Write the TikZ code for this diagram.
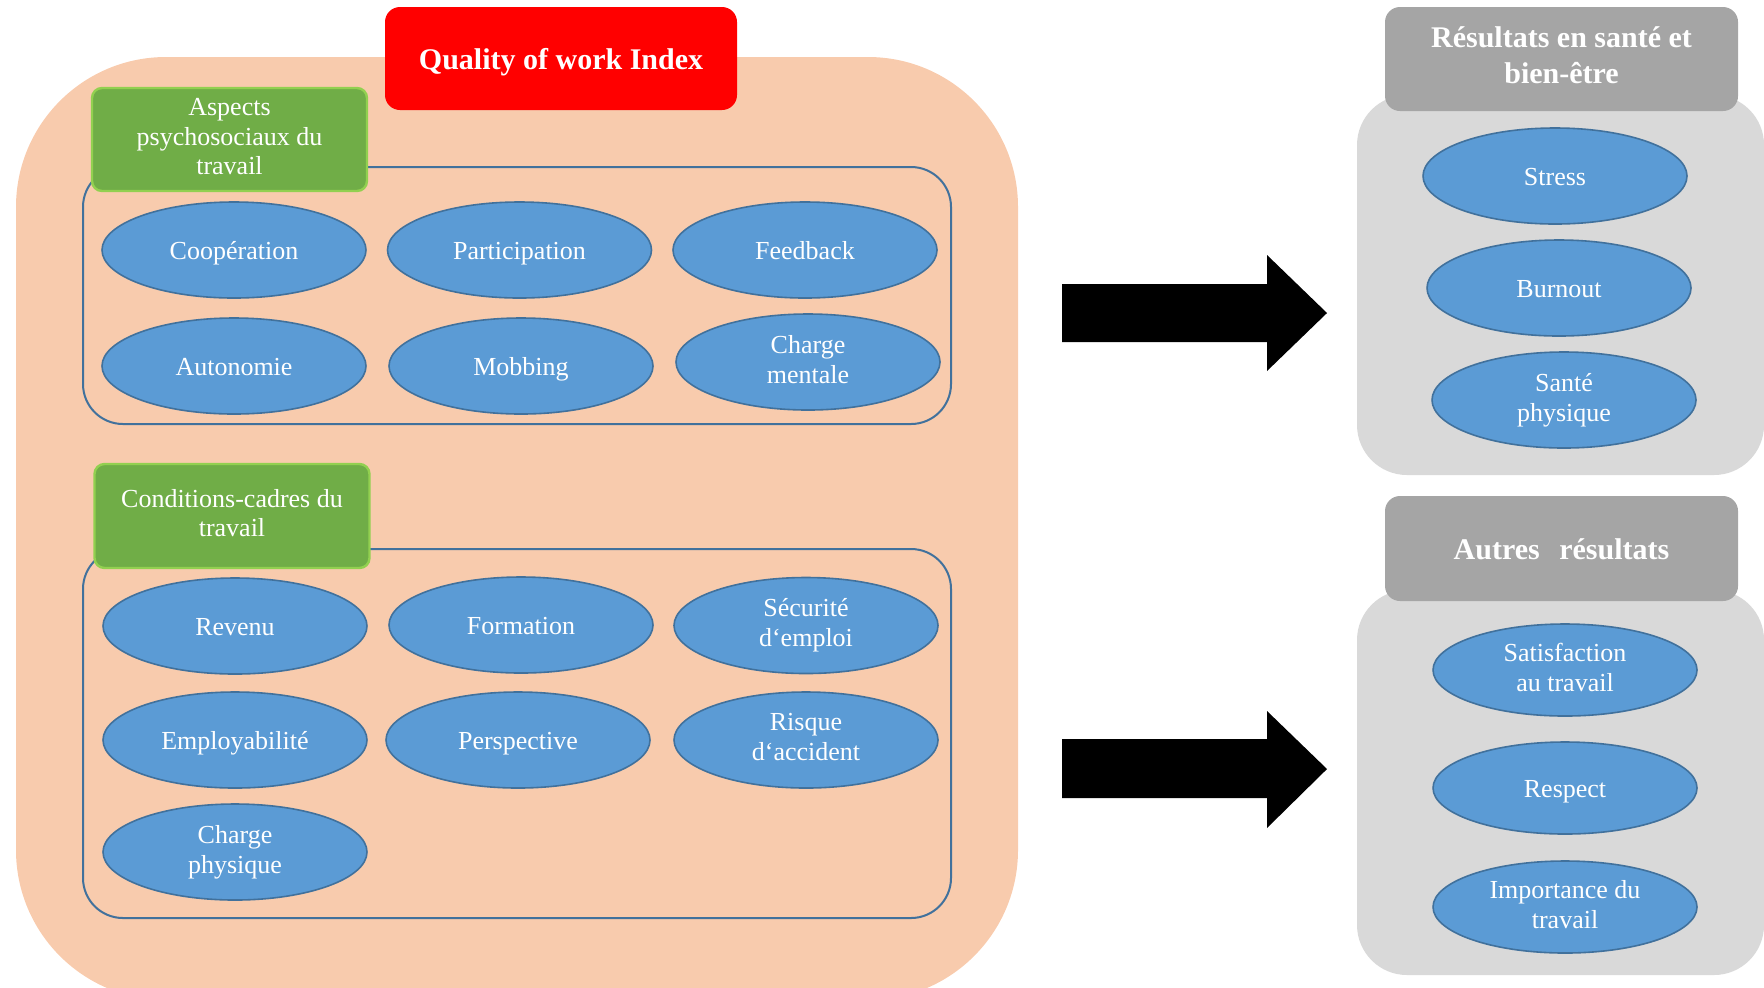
\documentclass[tikz,border=0pt]{standalone}
\usepackage{fontspec}
\setmainfont{Liberation Serif}
\usetikzlibrary{shapes.geometric}
\definecolor{peach}{HTML}{F8CBAD}
\definecolor{ovalfill}{HTML}{5B9BD5}
\definecolor{ovaledge}{HTML}{41719C}
\definecolor{grn}{HTML}{70AD47}
\definecolor{grnedge}{HTML}{92D050}
\definecolor{hdrgray}{HTML}{A5A5A5}
\definecolor{bodygray}{HTML}{D9D9D9}
\definecolor{qred}{HTML}{FF0000}
\newcommand\mystrut{\rule[-0.2\baselineskip]{0pt}{\baselineskip}}
\begin{document}
\begin{tikzpicture}[x=0.5pt,y=-0.5pt,
  struts/.style={execute at begin node=\mystrut, execute at end node=\mystrut},
  oval/.style={ellipse, fill=ovalfill, draw=ovaledge, line width=0.8pt,
    minimum width=132pt, minimum height=48pt, inner sep=0pt, text=white,
    align=center, font=\fontsize{13}{15}\selectfont, struts},
  bigpanel/.style={rectangle, fill=peach, rounded corners=75pt, inner sep=0pt,
    minimum width=501pt, minimum height=471.5pt},
  groupbox/.style={rectangle, draw=ovaledge, line width=1pt, rounded corners=20pt,
    inner sep=0pt, minimum width=434pt},
  greenbox/.style={rectangle, fill=grn, draw=grnedge, line width=1.2pt, rounded corners=5pt,
    inner sep=0pt, minimum width=137.5pt, minimum height=51.5pt, text=white,
    align=center, font=\fontsize{13}{14.8}\selectfont, struts},
  redbox/.style={rectangle, fill=qred, rounded corners=7.5pt, inner sep=0pt,
    minimum width=176pt, minimum height=51.5pt, text=white,
    font=\fontsize{15}{18}\selectfont\bfseries, struts},
  hdrbox/.style={rectangle, fill=hdrgray, rounded corners=7.5pt, inner sep=0pt,
    minimum width=176.5pt, minimum height=52pt, text=white, align=center,
    font=\fontsize{15}{18}\selectfont\bfseries, struts},
  graybody/.style={rectangle, fill=bodygray, rounded corners=25pt, inner sep=0pt,
    minimum width=203.5pt},
  blockarrow/.style={fill=black}
]
\useasboundingbox (0,0) rectangle (1764,987);
\clip (0,0) rectangle (1764,987);

% left panel
\node[bigpanel] (qwi) at (517,528.5) {};
\node[groupbox, minimum height=128.5pt] (grpA) at (517,295.5) {};
\node[groupbox, minimum height=184.5pt] (grpB) at (517,733.5) {};
\node[greenbox] (hdrA) at (229.5,139.5) {Aspects\\psychosociaux du\\travail};
\node[greenbox, minimum height=52pt] (hdrB) at (232,516) {Conditions-cadres du\\travail};
\node[redbox] (title) at (561,58.5) {Quality of work Index};

\node[oval] (coop) at (234,250) {Coopération};
\node[oval] (part) at (519.5,250) {Participation};
\node[oval] (feed) at (805,250) {Feedback};
\node[oval] (auto) at (234,366) {Autonomie};
\node[oval] (mobb) at (521,366) {Mobbing};
\node[oval] (chm) at (808,362) {Charge\\mentale};

\node[oval] (rev) at (235,626) {Revenu};
\node[oval] (form) at (521,625) {Formation};
\node[oval] (secu) at (806,625.5) {Sécurité\\d‘emploi};
\node[oval] (empl) at (235,740) {Employabilité};
\node[oval] (persp) at (518,740) {Perspective};
\node[oval] (risq) at (806,740) {Risque\\d‘accident};
\node[oval] (chp) at (235,852) {Charge\\physique};

% arrows
\coordinate (a1) at (1062,284);
\coordinate (a2) at (1062,739);
\fill[blockarrow] (a1) -- ++(205,0) -- ++(0,-29) -- (1327,313) -- (1267,371) -- (1267,342) -- (1062,342) -- cycle;
\fill[blockarrow] (a2) -- ++(205,0) -- ++(0,-28) -- (1327,769) -- (1267,828) -- (1267,798) -- (1062,798) -- cycle;

% right panels
\node[graybody, minimum height=190pt] (bodyA) at (1560.5,285) {};
\node[hdrbox] (resA) at (1561.5,59) {Résultats en santé et\\bien-être};
\node[oval] (stress) at (1555,176) {Stress};
\node[oval] (burn) at (1559,288) {Burnout};
\node[oval] (sante) at (1564,400) {Santé\\physique};

\node[graybody, minimum height=192.5pt] (bodyB) at (1560.5,782.5) {};
\node[hdrbox, minimum height=52.5pt] (resB) at (1561.5,548.5) {Autres\hspace{0.4em} résultats};
\node[oval, minimum height=46pt] (satis) at (1565,670) {Satisfaction\\au travail};
\node[oval, minimum height=46pt] (resp) at (1565,788) {Respect};
\node[oval, minimum height=46pt] (impo) at (1565,907) {Importance du\\travail};
\end{tikzpicture}
\end{document}
